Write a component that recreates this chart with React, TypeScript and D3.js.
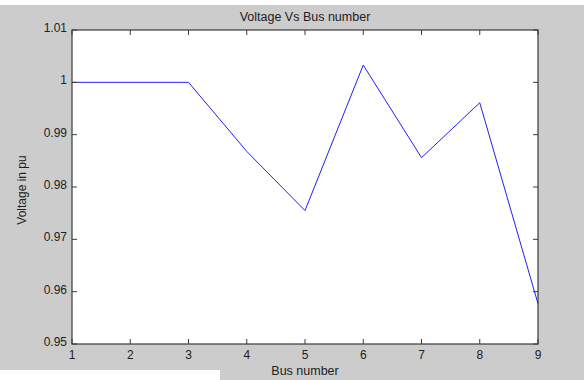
import React from "react";
import * as d3 from "d3";

// Bus voltage profile (per unit) for buses 1..9
const busNumbers = [1, 2, 3, 4, 5, 6, 7, 8, 9];
const voltages = [1.0, 1.0, 1.0, 0.9868, 0.9755, 1.0033, 0.9856, 0.9961, 0.9577];
const xTicks = [1, 2, 3, 4, 5, 6, 7, 8, 9];
const yTicks = [0.95, 0.96, 0.97, 0.98, 0.99, 1.0, 1.01];
const yTickLabels = ["0.95", "0.96", "0.97", "0.98", "0.99", "1", "1.01"];

const W = 584;
const H = 380;
const M = { left: 72, right: 46, top: 30, bottom: 36 };

export default function App() {
  const x = d3.scaleLinear().domain([1, 9]).range([M.left, W - M.right]);
  const y = d3.scaleLinear().domain([0.95, 1.01]).range([H - M.bottom, M.top]);

  const line = d3
    .line<number>()
    .x((_, i) => x(busNumbers[i]))
    .y((d) => y(d));

  const font = "'Liberation Sans', Arial, Helvetica, sans-serif";
  const x0 = x.range()[0];
  const x1 = x.range()[1];
  const y0 = y.range()[0];
  const y1 = y.range()[1];
  const tick = 5;
  const axisColor = "#3a3a3a";

  return (
    <svg
      width={W}
      height={H}
      style={{ position: "absolute", left: 0, top: 0, display: "block" }}
      fontFamily={font}
    >
      <rect x={0} y={0} width={W} height={H} fill="#ffffff" />
      <rect x={0} y={5} width={W} height={H - 5} fill="#cccccc" />
      <rect x={0} y={370} width={220} height={10} fill="#ffffff" />

      {/* plot area */}
      <rect x={x0} y={y1} width={x1 - x0} height={y0 - y1} fill="#ffffff" />

      {/* data line */}
      <path
        d={line(voltages) ?? ""}
        fill="none"
        stroke="#1f1fff"
        strokeWidth={1}
        strokeLinejoin="miter"
      />

      {/* ticks, inward on all four sides */}
      {xTicks.map((t) => (
        <g key={`xt${t}`} stroke={axisColor} strokeWidth={1}>
          <line x1={x(t)} x2={x(t)} y1={y0} y2={y0 - tick} />
          <line x1={x(t)} x2={x(t)} y1={y1} y2={y1 + tick} />
        </g>
      ))}
      {yTicks.map((t) => (
        <g key={`yt${t}`} stroke={axisColor} strokeWidth={1}>
          <line x1={x0} x2={x0 + tick} y1={y(t)} y2={y(t)} />
          <line x1={x1} x2={x1 - tick} y1={y(t)} y2={y(t)} />
        </g>
      ))}

      {/* axes box */}
      <rect
        x={x0}
        y={y1}
        width={x1 - x0}
        height={y0 - y1}
        fill="none"
        stroke={axisColor}
        strokeWidth={1.2}
      />

      {/* tick labels */}
      {xTicks.map((t) => (
        <text
          key={`xl${t}`}
          x={x(t)}
          y={y0 + 15}
          textAnchor="middle"
          fontSize={12}
          fill="#222"
        >
          {t}
        </text>
      ))}
      {yTicks.map((t, i) => (
        <text
          key={`yl${t}`}
          x={x0 - 5}
          y={y(t) + 2}
          textAnchor="end"
          fontSize={12}
          fill="#222"
        >
          {yTickLabels[i]}
        </text>
      ))}

      {/* titles */}
      <text
        x={(x0 + x1) / 2}
        y={20.5}
        textAnchor="middle"
        fontSize={12.5}
        fill="#222"
      >
        Voltage Vs Bus number
      </text>
      <text
        x={(x0 + x1) / 2}
        y={375}
        textAnchor="middle"
        fontSize={12.5}
        fill="#222"
      >
        Bus number
      </text>
      <text
        transform={`translate(26, ${(y0 + y1) / 2 + 3}) rotate(-90)`}
        textAnchor="middle"
        fontSize={12}
        fill="#222"
      >
        Voltage in pu
      </text>
    </svg>
  );
}
